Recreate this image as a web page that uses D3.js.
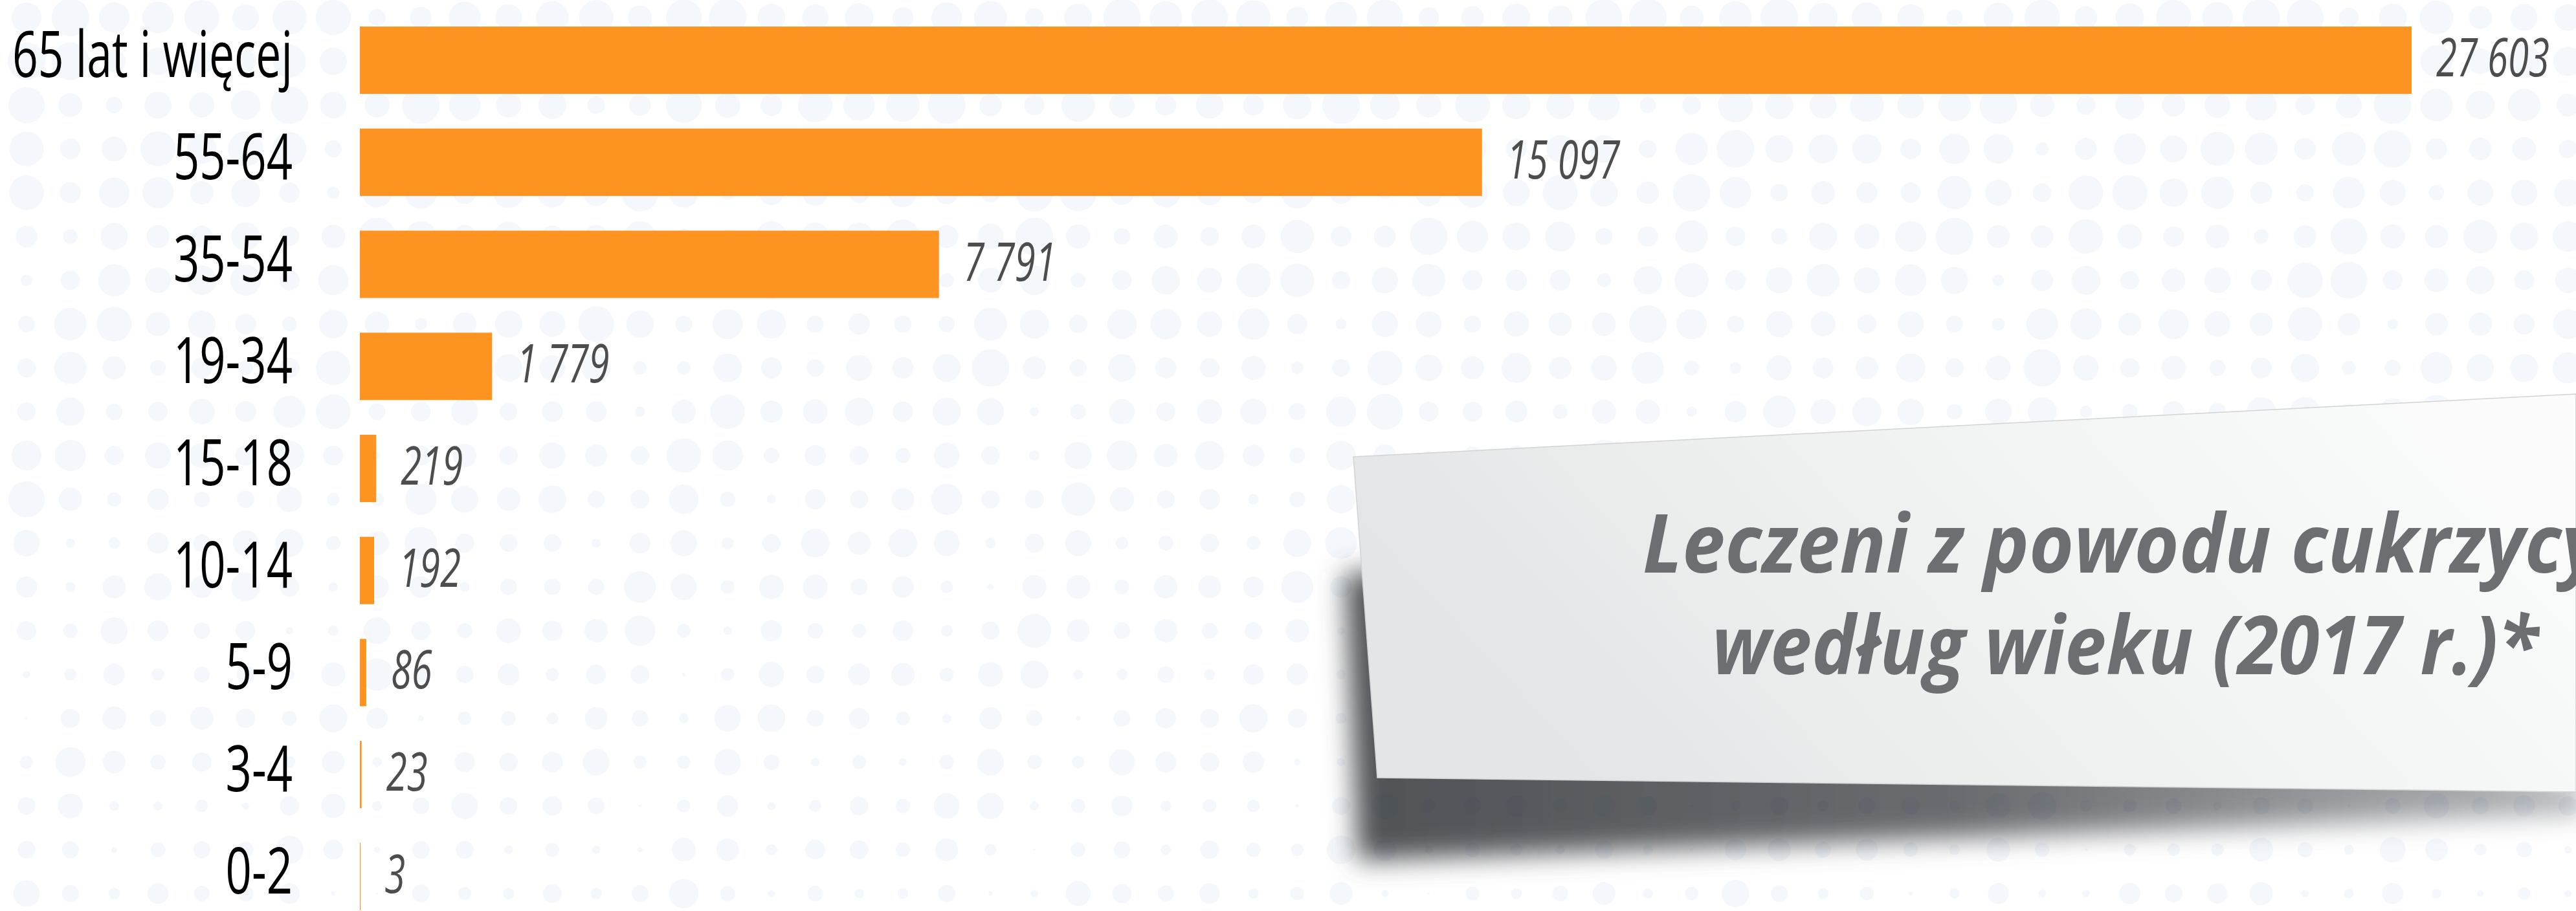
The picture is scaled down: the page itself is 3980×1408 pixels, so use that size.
<!DOCTYPE html>
<html>
<head>
<meta charset="utf-8">
<script src="https://cdn.jsdelivr.net/npm/d3@7"></script>
<style>
  html, body { margin: 0; padding: 0; background: #ffffff; }
  svg { display: block; }
</style>
</head>
<body>
<svg id="chart" width="3980" height="1408"></svg>
<script>
// data
let ageGroups = ['65 lat i więcej', '55-64', '35-54', '19-34', '15-18', '10-14', '5-9', '3-4', '0-2']
let patients = [27603, 15097, 7791, 1779, 219, 192, 86, 23, 3]
let titleLines = ['Leczeni z powodu cukrzycy', 'według wieku (2017 r.)*']

let W = 3980, H = 1408
let barLeft = 556, barRight = 3726
let labelRight = 452, labelMaxWidth = 433

let svg = d3.select('#chart')
let defs = svg.append('defs')

// background halftone dots (decoration only)
let dotRows = d3.range(0, 21), dotCols = d3.range(0, 59)
let dots = []
for (let j of dotRows) {
    for (let i of dotCols) {
        let r = 23 + 7 * Math.sin(i * 0.9 + j * 1.3) * Math.cos(i * 0.37 - j * 0.6) + 5 * Math.sin(i * 2.1 + j * 0.7)
        r = r - j * 0.6
        dots.push({x: 41 + i * 67.7, y: 27 + j * 67.7, r: Math.max(2, Math.min(29, r))})
    }
}
svg.append('g').attr('id', 'dots').selectAll('circle').data(dots).join('circle')
    .attr('cx', d => d.x).attr('cy', d => d.y).attr('r', d => d.r)
    .attr('fill', '#f4f8fc')

// scales
let xScale = d3.scaleLinear().domain([0, d3.max(patients)]).range([barLeft, barRight])
let yScale = d3.scaleBand().domain(ageGroups).range([41, 1407]).paddingInner(0.34).paddingOuter(0)
let rows = ageGroups.map((g, i) => ({group: g, value: patients[i]}))
let fmt = d3.formatLocale({decimal: ',', thousands: ' ', grouping: [3], currency: ['', ' zł']}).format(',d')

// bars
svg.append('g').attr('id', 'bars').selectAll('rect').data(rows).join('rect')
    .attr('x', xScale(0))
    .attr('y', d => yScale(d.group))
    .attr('width', d => Math.max(1, xScale(d.value) - xScale(0)))
    .attr('height', yScale.bandwidth())
    .attr('fill', '#fd9321')

// category labels (squeezed to look condensed)
svg.append('g').attr('id', 'cat-labels').selectAll('text').data(rows).join('text')
    .attr('text-anchor', 'end')
    .attr('font-family', 'Open Sans, sans-serif')
    .attr('font-size', 98)
    .attr('fill', '#000000')
    .text(d => d.group)
    .each(function(d) {
        let len = this.getComputedTextLength()
        let sx = Math.min(0.72, labelMaxWidth / len)
        d3.select(this).attr('transform', `translate(${labelRight},${yScale(d.group) + yScale.bandwidth() / 2 + 26}) scale(${sx},1)`)
    })

// value labels
svg.append('g').attr('id', 'val-labels').selectAll('text').data(rows).join('text')
    .attr('transform', d => `translate(${xScale(d.value) + 38},${yScale(d.group) + yScale.bandwidth() / 2 + 25}) scale(0.7,1)`)
    .attr('text-anchor', 'start')
    .attr('font-family', 'Open Sans, sans-serif')
    .attr('font-style', 'italic')
    .attr('font-size', 83)
    .attr('fill', '#4d4d4d')
    .text(d => fmt(d.value))

// title card with shadow
let blur = defs.append('filter').attr('id', 'shadowBlur').attr('x', '-20%').attr('y', '-50%').attr('width', '140%').attr('height', '200%')
blur.append('feGaussianBlur').attr('stdDeviation', 20)

let shadowGrad = defs.append('linearGradient').attr('id', 'shadowGrad').attr('x1', 0).attr('y1', 0).attr('x2', 1).attr('y2', 0)
shadowGrad.append('stop').attr('offset', 0).attr('stop-color', '#4f5256')
shadowGrad.append('stop').attr('offset', 0.5).attr('stop-color', '#6a6c70')
shadowGrad.append('stop').attr('offset', 1).attr('stop-color', '#b4b6b9')

let cardGrad = defs.append('linearGradient').attr('id', 'cardGrad').attr('x1', 0).attr('y1', 0.3).attr('x2', 1).attr('y2', 0)
cardGrad.append('stop').attr('offset', 0).attr('stop-color', '#e4e5e6')
cardGrad.append('stop').attr('offset', 0.35).attr('stop-color', '#eeefef')
cardGrad.append('stop').attr('offset', 0.7).attr('stop-color', '#f6f7f7')
cardGrad.append('stop').attr('offset', 1).attr('stop-color', '#fcfcfc')

let card = svg.append('g').attr('id', 'card')
let shadowPts = [[2078, 885], [2130, 885], [3990, 1215], [3990, 1258], [2098, 1330]]
card.append('polygon')
    .attr('points', shadowPts.map(p => p.join(',')).join(' '))
    .attr('fill', 'url(#shadowGrad)')
    .attr('filter', 'url(#shadowBlur)')
    .style('mix-blend-mode', 'multiply')

let cardPts = [[2091, 706], [3980, 609], [3980, 1224], [2128, 1202]]
card.append('polygon')
    .attr('points', cardPts.map(p => p.join(',')).join(' '))
    .attr('fill', 'url(#cardGrad)')
    .attr('stroke', '#d2d3d5')
    .attr('stroke-width', 1.5)

// first line runs off the card edge, as in the original
let titlePos = [[2538, 885, 0.94], [2645, 1042, 0.91]]
card.selectAll('text').data(titleLines).join('text')
    .attr('transform', (d, i) => `translate(${titlePos[i][0]},${titlePos[i][1]}) scale(${titlePos[i][2]},1)`)
    .attr('font-family', 'Open Sans, sans-serif')
    .attr('font-style', 'italic')
    .attr('font-weight', 700)
    .attr('font-size', 126)
    .attr('fill', '#6d6e71')
    .text(d => d)
</script>
</body>
</html>
